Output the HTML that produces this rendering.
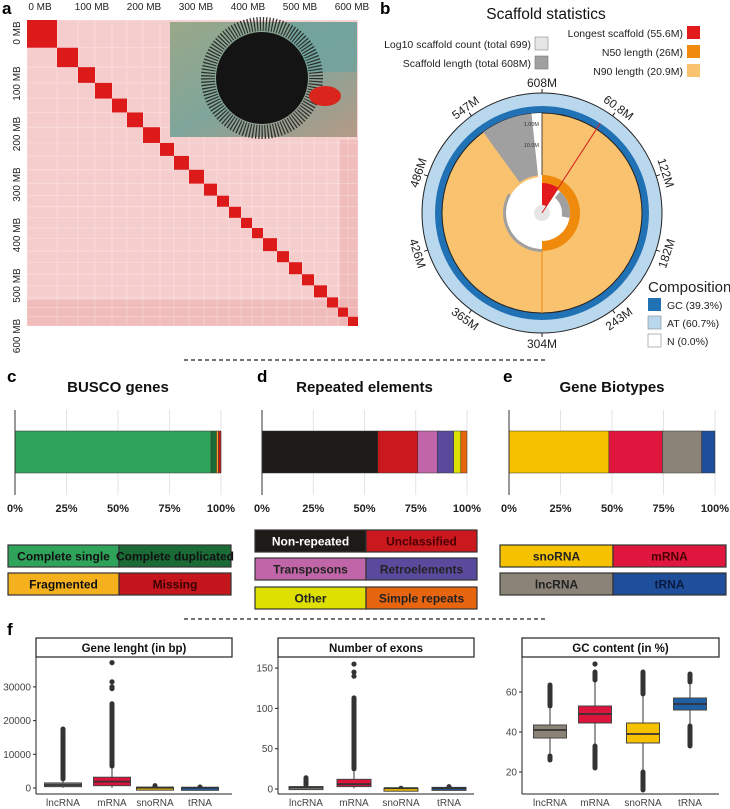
<!DOCTYPE html>
<html><head><meta charset="utf-8">
<style>
html,body{margin:0;padding:0;background:#fff;}
svg{display:block;font-family:"Liberation Sans",Arial,sans-serif;}
.pl{font-size:17px;font-weight:bold;}
.tk{font-size:10px;fill:#444;}
.bt{font-size:15px;font-weight:bold;fill:#111;}
.bx{font-size:11.5px;font-weight:bold;fill:#111;}
.lg{font-size:12px;font-weight:bold;}
</style></head>
<body>
<svg id="fig" width="730" height="809" viewBox="0 0 730 809" xmlns="http://www.w3.org/2000/svg">
<defs>
<linearGradient id="sea" x1="0" y1="0" x2="1" y2="1">
<stop offset="0" stop-color="#9aa889"/><stop offset="0.5" stop-color="#7fa59a"/><stop offset="1" stop-color="#b59a86"/>
</linearGradient>
</defs>
<!-- Panel a -->
<g>
<text class="pl" x="2" y="14">a</text>
<rect x="27" y="20" width="331" height="306" fill="#f6cdcd"/>
<g id="hicGrid"></g>
<g id="hicBlocks"></g>
<g>
<rect x="170" y="22" width="187" height="115" fill="url(#sea)"/>
<rect x="290" y="22" width="67" height="50" fill="#6fa39e" opacity="0.8"/>
<circle cx="262" cy="78" r="54" fill="none" stroke="#1a1a1a" stroke-width="14" stroke-dasharray="1.2 1.8" opacity="0.85"/>
<circle cx="262" cy="78" r="46" fill="#141414"/>
<ellipse cx="325" cy="96" rx="16" ry="10" fill="#d9251c"/>
</g>
<g id="hicAxes"></g>
</g>

<!-- Panel b -->
<g>
<text class="pl" x="380" y="14">b</text>
<text x="546" y="19" font-size="15.5" text-anchor="middle" fill="#111">Scaffold statistics</text>
<g font-size="10.5" fill="#222" text-anchor="end">
<text x="531" y="48">Log10 scaffold count (total 699)</text>
<rect x="535" y="37" width="13" height="13" fill="#e6e6e6" stroke="#888" stroke-width="0.6"/>
<text x="531" y="67">Scaffold length (total 608M)</text>
<rect x="535" y="56" width="13" height="13" fill="#a0a0a0" stroke="#777" stroke-width="0.6"/>
<text x="683" y="37">Longest scaffold (55.6M)</text>
<rect x="687" y="26" width="13" height="13" fill="#e31a1c"/>
<text x="683" y="56">N50 length (26M)</text>
<rect x="687" y="45" width="13" height="13" fill="#f08a0c"/>
<text x="683" y="75">N90 length (20.9M)</text>
<rect x="687" y="64" width="13" height="13" fill="#f8c26e"/>
</g>
<g id="snail"></g>
<g fill="#222">
<text x="648" y="292" font-size="15">Composition</text>
<rect x="648" y="298" width="13" height="13" fill="#2171b5"/>
<text x="667" y="309" font-size="10.5">GC (39.3%)</text>
<rect x="648" y="316" width="13" height="13" fill="#b9d8ee" stroke="#888" stroke-width="0.6"/>
<text x="667" y="327" font-size="10.5">AT (60.7%)</text>
<rect x="648" y="334" width="13" height="13" fill="#fff" stroke="#888" stroke-width="0.6"/>
<text x="667" y="345" font-size="10.5">N (0.0%)</text>
</g>
</g>

<line x1="184" y1="360" x2="548" y2="360" stroke="#222" stroke-width="1.3" stroke-dasharray="4 3"/>
<line x1="184" y1="619" x2="548" y2="619" stroke="#222" stroke-width="1.3" stroke-dasharray="4 3"/>

<text class="pl" x="7" y="382">c</text>
<text class="pl" x="257" y="382">d</text>
<text class="pl" x="503" y="382">e</text>
<g id="stacked"></g>
<g id="legends"></g>

<text class="pl" x="7" y="635">f</text>
<g id="boxes"></g>
</svg>
<script>
// ---------- DATA ----------
const buscoLabels = ["Complete single","Complete duplicated","Fragmented","Missing"];
const buscoValues = [95.2, 2.6, 1.0, 1.2];
const repeatLabels = ["Non-repeated","Unclassified","Transposons","Retroelements","Other","Simple repeats"];
const repeatValues = [56.5, 19.5, 9.5, 8.0, 3.5, 3.0];
const biotypeLabels = ["snoRNA","mRNA","lncRNA","tRNA"];
const biotypeValues = [48.5, 26.0, 19.0, 6.5];
const pctTicks = [0, 25, 50, 75, 100];

const boxCategories = ["lncRNA","mRNA","snoRNA","tRNA"];
const lenQ1 = [400, 700, 20, 20];
const lenMed = [900, 1900, 100, 80];
const lenQ3 = [1500, 3200, 250, 200];
const lenLo = [50, 50, 0, 0];
const lenHi = [2700, 6500, 500, 300];
const lenOutMax = [17500, 25000, 700, 300];
const lenExtra = [[], [29500, 30000, 31500, 37200], [], []];
const lenTicks = [0, 10000, 20000, 30000];

const exQ1 = [1, 3, 1, 1];
const exMed = [2, 6, 1, 1];
const exQ3 = [3, 12, 1, 2];
const exLo = [1, 1, 1, 1];
const exHi = [5, 25, 1, 2];
const exOutMax = [14, 113, 1, 3];
const exExtra = [[], [140, 145, 155], [], []];
const exTicks = [0, 50, 100, 150];

const gcQ1 = [37, 44.5, 34.5, 51];
const gcMed = [41, 49, 39, 54];
const gcQ3 = [43.5, 53, 44.5, 57];
const gcLo = [28, 33, 20, 43];
const gcHi = [53, 66, 59, 65];
const gcOutMin = [26, 22, 11, 33];
const gcOutMax = [63.5, 70, 70, 69];
const gcExtra = [[], [74], [], []];
const gcTicks = [20, 40, 60];

const snailTickLabels = ["608M","60.8M","122M","182M","243M","304M","365M","426M","486M","547M"];
const hicTickLabels = ["0 MB","100 MB","200 MB","300 MB","400 MB","500 MB","600 MB"];

const boxColors = ["#8b8378","#dc143c","#f6c200","#1f5fa5"];

// ---------- helpers ----------
const NS = "http://www.w3.org/2000/svg";
function mk(tag, attrs, parent){ const e=document.createElementNS(NS,tag); for(const k in attrs) e.setAttribute(k,attrs[k]); if(parent) parent.appendChild(e); return e; }

// ---------- Hi-C ----------
(function(){
  const grid=document.getElementById('hicGrid');
  const blocks=document.getElementById('hicBlocks');
  const axes=document.getElementById('hicAxes');
  const b=[27,57,78,95,112,127,143,160,174,189,204,217,229,241,252,263,277,289,302,314,327,338,348,358];
  const fy=x=>20+(x-27)*306/331;
  mk('rect',{x:27,y:300,width:331,height:26,fill:'#eeb0b0',opacity:0.6},grid);
  mk('rect',{x:340,y:140,width:18,height:186,fill:'#eeb0b0',opacity:0.6},grid);
  for(let i=0;i<b.length;i++){
    const l=mk('line',{x1:b[i],y1:20,x2:b[i],y2:326,stroke:'#fff',"stroke-width":0.7,opacity:0.35},grid);
    
    
    const h=mk('line',{x1:27,y1:fy(b[i]),x2:358,y2:fy(b[i]),stroke:'#fff',"stroke-width":0.7,opacity:0.35},grid);
    
    
  }
  for(let i=0;i<b.length-1;i++){
    const r=mk('rect',{x:b[i],y:fy(b[i]),width:b[i+1]-b[i],height:fy(b[i+1])-fy(b[i]),fill:'#dc1a1a'},blocks);
    
    
  }
  hicTickLabels.forEach((t,i)=>{
    const x=40+i*52;
    const tx=mk('text',{x:x,y:10,"font-size":10,"text-anchor":"middle",fill:'#222'},axes);
    tx.textContent=t;
    
    
    const y=33+i*50.5;
    const ty=mk('text',{x:0,y:0,"font-size":10,"text-anchor":"middle",fill:'#222',transform:`translate(20,${y}) rotate(-90)`},axes);
    ty.textContent=t;
    
    
  });
})();

// ---------- Snail ----------
(function(){
  const g=document.getElementById('snail');
  const cx=542, cy=213;
  const pt=(r,a)=>[cx+r*Math.sin(a*Math.PI/180), cy-r*Math.cos(a*Math.PI/180)];
  function arc(r0,r1,a0,a1){
    const [x0,y0]=pt(r1,a0),[x1,y1]=pt(r1,a1),[x2,y2]=pt(r0,a1),[x3,y3]=pt(r0,a0);
    const lg=(a1-a0)>180?1:0;
    return `M${x0},${y0} A${r1},${r1} 0 ${lg} 1 ${x1},${y1} L${x2},${y2} A${r0},${r0} 0 ${lg} 0 ${x3},${y3} Z`;
  }
  function ring(r0,r1,fill,name){ const c=mk('path',{d:arc(r0,r1,0,359.99),fill:fill},g);   return c;}
  ring(107,120,'#b9d8ee','at-ring');
  ring(100,107,'#2171b5','gc-ring');
  mk('circle',{cx:cx,cy:cy,r:120,fill:'none',stroke:'#222','stroke-width':1},g);
  mk('circle',{cx:cx,cy:cy,r:100,fill:'#f8c26e',stroke:'#222','stroke-width':1},g);
  let p=mk('path',{d:arc(38,100,-36,-6),fill:'#a0a0a0'},g);
   
  p=mk('path',{d:arc(0,100,-6,0),fill:'#fff'},g);
  mk('circle',{cx:cx,cy:cy,r:36,fill:'#fff'},g);
  p=mk('path',{d:arc(36,39,180,300),fill:'#a0a0a0'},g);
   
  p=mk('path',{d:arc(20,28,40,100),fill:'#a0a0a0'},g);
  p=mk('path',{d:arc(28,38,0,180),fill:'#f08a0c'},g);
   
  p=mk('path',{d:arc(0,30,0,33),fill:'#e31a1c'},g);
   
  mk('circle',{cx:cx,cy:cy,r:8,fill:'#e6e6e6'},g);
  let [lx,ly]=pt(107,33);
  mk('line',{x1:cx,y1:cy,x2:lx,y2:ly,stroke:'#d7191c','stroke-width':1},g);
  [lx,ly]=pt(100,180);
  mk('line',{x1:cx,y1:cy+38,x2:lx,y2:ly,stroke:'#f08a0c','stroke-width':1},g);
  mk('line',{x1:cx,y1:cy-100,x2:cx,y2:cy-38,stroke:'#222','stroke-width':0.8},g);
  [['10.0M',68],['1.00M',89]].forEach(([t,r])=>{
    const e=mk('text',{x:cx-3,y:cy-r+2,'font-size':5.5,'text-anchor':'end',fill:'#333'},g); e.textContent=t;
  });
  snailTickLabels.forEach((t,i)=>{
    const a=i*36;
    const [x0,y0]=pt(120,a),[x1,y1]=pt(124,a);
    mk('line',{x1:x0,y1:y0,x2:x1,y2:y1,stroke:'#222','stroke-width':1},g);
    let e;
    if(a>90&&a<270){
      e=mk('text',{x:cx,y:cy+135,'font-size':12,'text-anchor':'middle',fill:'#222',transform:`rotate(${a-180},${cx},${cy})`},g);
    } else {
      e=mk('text',{x:cx,y:cy-126,'font-size':12,'text-anchor':'middle',fill:'#222',transform:`rotate(${a},${cx},${cy})`},g);
    }
    e.textContent=t;
    
    
  });
})();

// ---------- Stacked bars ----------
(function(){
  const g=document.getElementById('stacked');
  const panels=[
    {title:"BUSCO genes",x0:15,x1:221,vals:buscoValues,labs:buscoLabels,cols:["#2fa35a","#1b6b37","#f5a623","#c4161c"],name:'busco'},
    {title:"Repeated elements",x0:262,x1:467,vals:repeatValues,labs:repeatLabels,cols:["#1e1a18","#c9181e","#c066a8","#5a4a9e","#dde000","#e8650f"],name:'repeats'},
    {title:"Gene Biotypes",x0:509,x1:715,vals:biotypeValues,labs:biotypeLabels,cols:["#f6c200","#e0163e","#8b8378","#1f4e9a"],name:'biotypes'}
  ];
  panels.forEach(P=>{
    const sx=v=>P.x0+(P.x1-P.x0)*v/100;
    const t=mk('text',{class:'bt',x:(P.x0+P.x1)/2,y:392,'text-anchor':'middle'},g); t.textContent=P.title;
     
    pctTicks.forEach(v=>{
      mk('line',{x1:sx(v),y1:410,x2:sx(v),y2:495,stroke:'#ddd','stroke-width':0.8},g);
      const tt=mk('text',{x:sx(v),y:512,'font-size':11,'font-weight':'bold','text-anchor':'middle',fill:'#222'},g);
      tt.textContent=v+'%';
       
    });
    let acc=0;
    P.vals.forEach((v,i)=>{
      const r=mk('rect',{x:sx(acc),y:431,width:sx(acc+v)-sx(acc),height:42,fill:P.cols[i],stroke:'#333','stroke-width':0.5},g);
      
      
      acc+=v;
    });
    mk('line',{x1:P.x0,y1:410,x2:P.x0,y2:495,stroke:'#333','stroke-width':1},g);
  });
  const L=document.getElementById('legends');
  function lbox(x,y,w,h,fill,label,tc,name){
    const r=mk('rect',{x:x,y:y,width:w,height:h,fill:fill,stroke:'#333','stroke-width':1.2},L);
     
    const t=mk('text',{class:'lg',x:x+w/2,y:y+h/2+4.5,'text-anchor':'middle',style:'fill:'+tc},L); t.textContent=label;
  }
  lbox(8,545,111,22,"#2fa35a","Complete single","#111",'legend-complete-single');
  lbox(119,545,112,22,"#1b6b37","Complete duplicated","#111",'legend-complete-duplicated');
  lbox(8,573,111,22,"#f5b01e","Fragmented","#111",'legend-fragmented');
  lbox(119,573,112,22,"#c4161c","Missing","#3a0000",'legend-missing');
  lbox(255,530,111,22,"#1e1a18","Non-repeated","#fff",'legend-non-repeated');
  lbox(366,530,111,22,"#c9181e","Unclassified","#4a0000",'legend-unclassified');
  lbox(255,558,111,22,"#c066a8","Transposons","#222",'legend-transposons');
  lbox(366,558,111,22,"#5a4a9e","Retroelements","#222",'legend-retroelements');
  lbox(255,587,111,22,"#dde000","Other","#222",'legend-other');
  lbox(366,587,111,22,"#e8650f","Simple repeats","#222",'legend-simple-repeats');
  lbox(500,545,113,22,"#f6c200","snoRNA","#222",'legend-snorna');
  lbox(613,545,113,22,"#e0163e","mRNA","#4a0000",'legend-mrna');
  lbox(500,573,113,22,"#8b8378","lncRNA","#222",'legend-lncrna');
  lbox(613,573,113,22,"#1f4e9a","tRNA","#0a1a40",'legend-trna');
})();

// ---------- Boxplots ----------
(function(){
  const g=document.getElementById('boxes');
  const panels=[
    {title:"Gene lenght (in bp)",ax:36,x1:232,cx:[63,112,155,200],bw:37,y0:788,k:33.7/10000,v0:0,
     q1:lenQ1,md:lenMed,q3:lenQ3,lo:lenLo,hi:lenHi,omin:null,omax:lenOutMax,ex:lenExtra,ticks:lenTicks,name:'gene-length'},
    {title:"Number of exons",ax:278,x1:474,cx:[306,354,401,449],bw:34,y0:789,k:40.3/50,v0:0,
     q1:exQ1,md:exMed,q3:exQ3,lo:exLo,hi:exHi,omin:null,omax:exOutMax,ex:exExtra,ticks:exTicks,name:'exon-count'},
    {title:"GC content (in %)",ax:522,x1:719,cx:[550,595,643,690],bw:33,y0:812,k:2,v0:0,
     q1:gcQ1,md:gcMed,q3:gcQ3,lo:gcLo,hi:gcHi,omin:gcOutMin,omax:gcOutMax,ex:gcExtra,ticks:gcTicks,name:'gc-content'}
  ];
  panels.forEach(P=>{
    const sy=v=>P.y0-(v-P.v0)*P.k;
    const s=mk('rect',{x:P.ax,y:638,width:P.x1-P.ax,height:19,fill:'#fff',stroke:'#222','stroke-width':1.2},g);
     
    const t=mk('text',{class:'bx',x:(P.ax+P.x1)/2,y:652,'text-anchor':'middle','font-size':12.5},g); t.textContent=P.title;
     
    mk('line',{x1:P.ax,y1:657,x2:P.ax,y2:794,stroke:'#222','stroke-width':1},g);
    mk('line',{x1:P.ax,y1:794,x2:P.x1,y2:794,stroke:'#222','stroke-width':1},g);
    P.ticks.forEach(v=>{
      mk('line',{x1:P.ax-3,y1:sy(v),x2:P.ax,y2:sy(v),stroke:'#222'},g);
      const tt=mk('text',{class:'tk',x:P.ax-5,y:sy(v)+3.5,'text-anchor':'end'},g); tt.textContent=v;
       
    });
    boxCategories.forEach((c,i)=>{
      const x=P.cx[i], w=P.bw;
      const lab=mk('text',{class:'tk',x:x,y:806,'text-anchor':'middle'},g); lab.textContent=c;
       
      mk('line',{x1:x,y1:sy(P.lo[i]),x2:x,y2:sy(P.hi[i]),stroke:'#333','stroke-width':1},g);
      const ol=mk('line',{x1:x,y1:sy(P.hi[i]),x2:x,y2:sy(P.omax[i]),stroke:'#333','stroke-width':5,'stroke-linecap':'round'},g);
       
      if(P.omin){
        const o2=mk('line',{x1:x,y1:sy(P.lo[i]),x2:x,y2:sy(P.omin[i]),stroke:'#333','stroke-width':5,'stroke-linecap':'round'},g);
         
      }
      P.ex[i].forEach(v=>{ mk('circle',{cx:x,cy:sy(v),r:2.6,fill:'#333'},g); });
      const bh=Math.max(sy(P.q1[i])-sy(P.q3[i]),3);
      const r=mk('rect',{x:x-w/2,y:sy(P.q3[i]),width:w,height:bh,fill:boxColors[i],stroke:'#444','stroke-width':1},g);
       
      mk('line',{x1:x-w/2,y1:sy(P.md[i]),x2:x+w/2,y2:sy(P.md[i]),stroke:'#333','stroke-width':1.8},g);
    });
  });
})();
</script>
</body></html>
